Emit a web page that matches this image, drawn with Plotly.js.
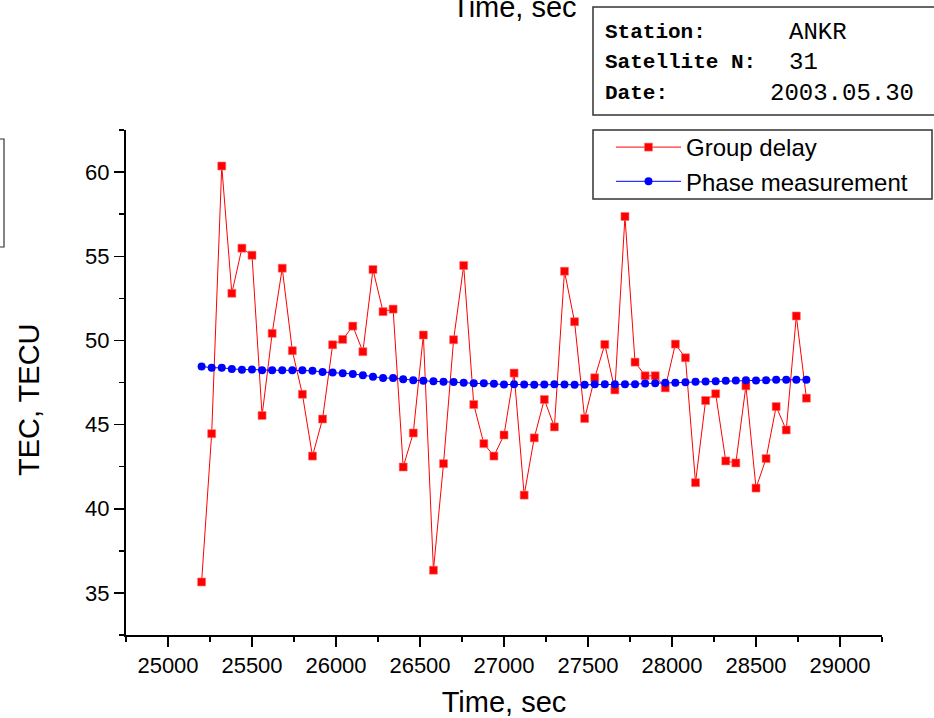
<!DOCTYPE html>
<html>
<head>
<meta charset="utf-8">
<script src="https://cdn.plot.ly/plotly-3.0.1.min.js"></script>
<style>html,body{margin:0;padding:0;background:#fff;}#chart{width:934px;height:718px;}</style>
</head>
<body>
<div id="chart"></div>
<script>
var timeSec = [
  25200,25260,25320,25380,25440,25500,25560,25620,25680,25740,
  25800,25860,25920,25980,26040,26100,26160,26220,26280,26340,
  26400,26460,26520,26580,26640,26700,26760,26820,26880,26940,
  27000,27060,27120,27180,27240,27300,27360,27420,27480,27540,
  27600,27660,27720,27780,27840,27900,27960,28020,28080,28140,
  28200,28260,28320,28380,28440,28500,28560,28620,28680,28740,
  28800
];
var groupDelay = [
  35.65,44.46,60.36,52.80,55.48,55.06,45.54,50.42,54.29,49.39,
  46.80,43.13,45.33,49.74,50.06,50.85,49.33,54.21,51.71,51.86,
  42.48,44.50,50.32,36.35,42.68,50.04,54.45,46.19,43.87,43.13,
  44.38,48.06,40.81,44.21,46.49,44.86,54.11,51.11,45.36,47.78,
  49.76,47.06,57.36,48.71,47.90,47.90,47.18,49.78,48.97,41.55,
  46.43,46.83,42.84,42.72,47.30,41.23,42.98,46.07,44.68,51.45,
  46.57
];
var phaseMeas = [
  48.45,48.38,48.37,48.30,48.26,48.27,48.23,48.23,48.23,48.23,
  48.23,48.20,48.12,48.10,48.05,48.01,47.93,47.84,47.77,47.76,
  47.69,47.64,47.60,47.58,47.55,47.53,47.49,47.45,47.45,47.42,
  47.38,47.40,47.38,47.36,47.38,47.40,47.38,47.36,47.36,47.40,
  47.40,47.40,47.40,47.40,47.44,47.46,47.48,47.48,47.52,47.54,
  47.56,47.58,47.60,47.62,47.64,47.62,47.64,47.66,47.66,47.66,
  47.66
];
var seriesNames = ["Group delay", "Phase measurement"];
var xTickVals = [25000,25500,26000,26500,27000,27500,28000,28500,29000];
var yTickVals = [35,40,45,50,55,60];
var infoLabels = ["Station:", "Satellite N:", "Date:"];
var infoValues = ["ANKR", "31", "2003.05.30"];
var axisTitles = {x: "Time, sec", y: "TEC, TECU"};

// layout geometry (pixels)
var W = 934, H = 718, L = 126, R = 52, T = 130, B = 83;
var pw = W - L - R, ph = H - T - B;
function px(x) { return (x - L) / pw; }
function py(y) { return (H - B - y) / ph; }

var traces = [
  {
    x: timeSec, y: groupDelay, name: seriesNames[0],
    type: "scatter", mode: "lines+markers",
    line: {color: "#ff0000", width: 1},
    marker: {symbol: "square", size: 8, color: "#ff0000", line: {color: "#ff7070", width: 0.6}}
  },
  {
    x: timeSec, y: phaseMeas, name: seriesNames[1],
    type: "scatter", mode: "lines+markers",
    line: {color: "#0000ff", width: 1},
    marker: {symbol: "circle", size: 8, color: "#0000ff"}
  }
];

var FONT = "Liberation Sans, Arial, sans-serif";
var MONO = "Liberation Mono, Courier New, monospace";

var annotations = [];
var rowY = [32, 62, 94];
var valX = [789, 789, 770];
for (var i = 0; i < infoLabels.length; i++) {
  annotations.push({
    xref: "paper", yref: "paper", x: px(603), y: py(rowY[i]),
    xanchor: "left", yanchor: "middle", showarrow: false,
    text: "<b>" + infoLabels[i] + "</b>",
    font: {family: MONO, size: 21, color: "#000"}
  });
  annotations.push({
    xref: "paper", yref: "paper", x: px(valX[i] - 2), y: py(rowY[i]),
    xanchor: "left", yanchor: "middle", showarrow: false,
    text: infoValues[i],
    font: {family: MONO, size: 24, color: "#000"}
  });
}
// cut-off title text at top edge
annotations.push({
  xref: "paper", yref: "paper", x: px(514), y: py(7),
  xanchor: "center", yanchor: "middle", showarrow: false,
  text: axisTitles.x, font: {family: FONT, size: 29, color: "#000"}
});
// y axis title
annotations.push({
  xref: "paper", yref: "paper", x: px(29), y: py(400),
  xanchor: "center", yanchor: "middle", showarrow: false, textangle: -90,
  text: axisTitles.y, font: {family: FONT, size: 29, color: "#000"}
});

var shapes = [
  {type: "rect", xref: "paper", yref: "paper", x0: px(593), x1: px(970), y0: py(115), y1: py(7),
   line: {color: "#333", width: 1.5}, fillcolor: "rgba(0,0,0,0)"},
  {type: "rect", xref: "paper", yref: "paper", x0: px(593), x1: px(932), y0: py(199), y1: py(130),
   line: {color: "#333", width: 1.5}, fillcolor: "rgba(0,0,0,0)"},
  {type: "rect", xref: "paper", yref: "paper", x0: px(-20), x1: px(4), y0: py(247), y1: py(139),
   line: {color: "#333", width: 1.2}, fillcolor: "rgba(0,0,0,0)"}
];

var layout = {
  width: W, height: H,
  margin: {l: L, r: R, t: T, b: B, pad: 0},
  paper_bgcolor: "#fff", plot_bgcolor: "#fff",
  font: {family: FONT, color: "#000", size: 22},
  showlegend: true,
  legend: {
    x: px(611), y: py(125), xanchor: "left", yanchor: "top",
    bgcolor: "rgba(0,0,0,0)", borderwidth: 0,
    font: {family: FONT, size: 24, color: "#000"},
    itemwidth: 65, tracegroupgap: 0
  },
  xaxis: {
    range: [24750, 29250], showgrid: false, zeroline: false,
    showline: true, linecolor: "#000", linewidth: 2,
    ticks: "outside", ticklen: 10, tickwidth: 1.5, tickcolor: "#000",
    tickvals: xTickVals, ticktext: xTickVals.map(String),
    tickfont: {family: FONT, size: 22, color: "#000"},
    minor: {dtick: 250, tick0: 24750, ticks: "outside", ticklen: 5, tickwidth: 1.5, tickcolor: "#000", showgrid: false},
    title: {text: axisTitles.x, font: {family: FONT, size: 29, color: "#000"}, standoff: 14}
  },
  yaxis: {
    range: [32.5, 62.5], showgrid: false, zeroline: false,
    showline: true, linecolor: "#000", linewidth: 2,
    ticks: "outside", ticklen: 10, tickwidth: 1.5, tickcolor: "#000",
    tickvals: yTickVals, ticktext: yTickVals.map(String),
    tickfont: {family: FONT, size: 22, color: "#000"},
    minor: {dtick: 2.5, tick0: 32.5, ticks: "outside", ticklen: 5, tickwidth: 1.5, tickcolor: "#000", showgrid: false}
  },
  annotations: annotations,
  shapes: shapes
};

Plotly.newPlot("chart", traces, layout, {displayModeBar: false, staticPlot: true});
</script>
</body>
</html>
